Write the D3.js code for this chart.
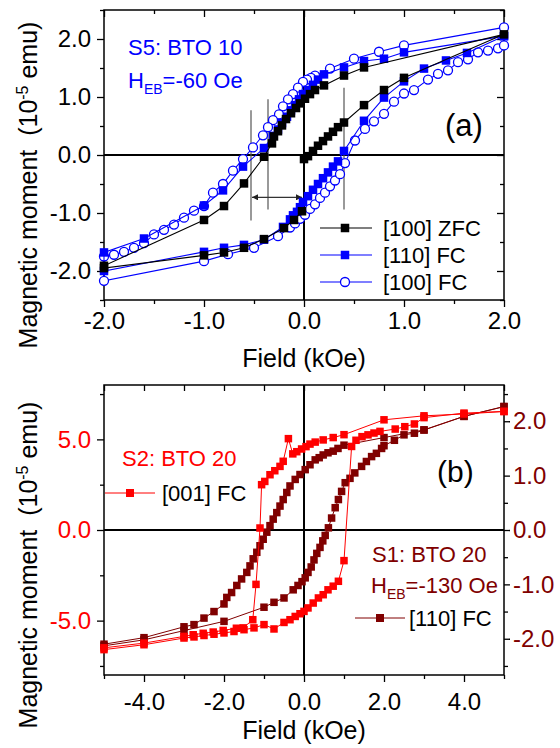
<!DOCTYPE html>
<html><head><meta charset="utf-8">
<script src="https://cdn.jsdelivr.net/npm/d3@7"></script>
<style>
body{margin:0;background:#fff}
svg text{font-family:"Liberation Sans",Arial,Helvetica,sans-serif}
</style>
</head><body>
<svg id="chart" width="560" height="748"></svg>
<script>
// ---------------- DATA: panel (a) S5: BTO 10 ----------------
// [100] ZFC : virgin curve (0 -> +2), descending branch (+2 -> -2), ascending branch (-2 -> 0)
const zfcField  = [0.00,0.04,0.09,0.14,0.19,0.24,0.29,0.34,0.40,0.60,0.80,1.00,2.00,
                   0.60,0.40,0.20,0.11,0.06,0.01,-0.04,-0.08,-0.13,-0.18,-0.22,-0.26,-0.30,-0.32,-0.40,-0.60,-0.80,-1.00,-2.00,
                   -2.00,-1.00,-0.80,-0.60,-0.40,-0.20,-0.10,-0.02];
const zfcMoment = [-0.07,-0.02,0.07,0.16,0.24,0.32,0.40,0.48,0.56,0.86,1.12,1.33,2.08,
                   1.51,1.37,1.20,1.12,1.05,0.97,0.89,0.81,0.72,0.62,0.51,0.41,0.32,0.20,-0.03,-0.49,-0.88,-1.12,-1.91,
                   -1.95,-1.73,-1.68,-1.60,-1.45,-1.26,-1.12,-0.97];
// [110] FC
const fc110Field  = [2.00,1.00,0.80,0.60,0.40,0.20,0.14,0.09,0.04,-0.01,-0.05,-0.09,-0.13,-0.17,-0.22,-0.26,-0.31,-0.40,-0.61,-0.81,-1.00,-1.60,-2.00,
                     -2.00,-1.00,-0.80,-0.60,-0.40,-0.21,-0.14,-0.11,-0.07,-0.04,-0.01,0.04,0.09,0.14,0.19,0.24,0.29,0.34,0.40,0.60,0.80,1.00,1.20,1.42,1.63,2.00];
const fc110Moment = [2.05,1.77,1.66,1.62,1.51,1.39,1.30,1.21,1.12,1.05,0.96,0.86,0.77,0.66,0.55,0.44,0.33,0.12,-0.20,-0.61,-0.87,-1.44,-1.68,
                     -2.00,-1.67,-1.60,-1.55,-1.46,-1.24,-1.11,-1.04,-0.98,-0.90,-0.81,-0.71,-0.60,-0.50,-0.40,-0.30,-0.20,-0.11,0.07,0.59,0.99,1.27,1.49,1.63,1.76,2.05];
// [100] FC
const fc100Field  = [2.00,1.00,0.75,0.50,0.26,0.11,0.07,0.03,-0.01,-0.06,-0.11,-0.16,-0.21,-0.25,-0.31,-0.36,-0.41,-0.51,-0.61,-0.71,-0.81,-0.91,-1.00,-1.10,-1.20,-1.30,-1.40,-1.50,-1.60,-1.70,-1.80,-1.90,-2.00,
                     -2.00,-1.00,-0.76,-0.50,-0.26,-0.14,-0.09,-0.04,0.01,0.06,0.11,0.16,0.21,0.26,0.31,0.36,0.41,0.51,0.61,0.70,0.80,0.90,1.00,1.10,1.24,1.34,1.44,1.54,1.64,1.74,1.84,1.94,2.00];
const fc100Moment = [2.20,1.89,1.78,1.66,1.49,1.37,1.33,1.30,1.26,1.16,1.05,0.96,0.84,0.70,0.60,0.48,0.34,0.13,-0.07,-0.27,-0.50,-0.65,-0.88,-0.96,-1.08,-1.20,-1.29,-1.37,-1.52,-1.60,-1.67,-1.72,-1.75,
                     -2.17,-1.83,-1.71,-1.60,-1.40,-1.25,-1.18,-1.10,-1.03,-0.93,-0.85,-0.74,-0.65,-0.54,-0.44,-0.33,-0.14,0.25,0.45,0.58,0.71,0.92,1.06,1.12,1.30,1.40,1.46,1.60,1.65,1.77,1.80,1.84,1.89];
// coercive-field marker lines in (a): field, bottom moment, top moment
const markerField  = [-0.53,-0.36,0.40];
const markerBottom = [-1.13,-0.94,-0.94];
const markerTop    = [0.77,0.96,1.16];
const arrowField   = [-0.53,0.0];
const arrowMoment  = -0.73;

// ---------------- DATA: panel (b) ----------------
// S2: BTO 20, [001] FC (left axis)
const s2Field  = [5.0,4.0,3.0,2.0,1.0,0.73,0.48,0.28,0.15,0.05,-0.06,-0.18,-0.28,-0.39,-0.52,-0.60,-0.73,-0.85,-0.98,-1.06,-1.10,-1.20,-1.28,-1.52,-1.69,-2.02,-2.27,-2.52,-2.77,-3.00,-4.00,-5.00,
                  -5.0,-4.0,-3.0,-2.75,-2.5,-2.25,-2.0,-1.75,-1.5,-1.25,-1.0,-0.75,-0.5,-0.35,-0.22,-0.1,0.0,0.1,0.23,0.36,0.48,0.6,0.73,0.86,1.0,1.19,1.3,1.45,1.6,1.75,1.9,2.28,2.52,2.76,3.0,4.0,5.0];
const s2Moment = [6.54,6.40,6.30,6.08,5.26,5.10,4.97,4.85,4.74,4.60,4.47,4.32,4.20,5.04,3.79,3.51,3.27,3.05,2.68,2.50,0.11,-3.00,-4.95,-5.40,-5.42,-5.54,-5.63,-5.70,-5.78,-5.87,-6.24,-6.50,
                  -6.60,-6.33,-5.96,-5.90,-5.82,-5.75,-5.68,-5.60,-5.50,-5.40,-5.22,-5.46,-5.10,-4.95,-4.77,-4.62,-4.49,-4.30,-4.03,-3.75,-3.57,-3.30,-3.10,-2.83,-1.69,4.61,4.95,5.15,5.25,5.35,5.44,5.57,5.70,5.85,6.20,6.45,6.54];
// S1: BTO 20, [110] FC (right axis)
const s1Field  = [5.0,4.0,3.0,2.0,1.0,0.85,0.73,0.6,0.48,0.38,0.28,0.15,0.03,-0.1,-0.22,-0.35,-0.43,-0.52,-0.6,-0.68,-0.77,-0.85,-0.93,-1.02,-1.1,-1.18,-1.27,-1.35,-1.43,-1.56,-1.68,-1.81,-1.93,-2.0,-2.25,-2.5,-2.75,-3.0,-4.0,-5.0,
                  -5.0,-4.0,-3.0,-2.0,-1.0,-0.75,-0.5,-0.27,-0.15,-0.05,0.03,0.1,0.18,0.25,0.32,0.4,0.47,0.53,0.61,0.69,0.78,0.86,0.94,1.03,1.15,1.27,1.44,1.56,1.69,1.81,1.94,2.0,2.26,2.5,2.76,3.0,4.0,5.0];
const s1Moment = [2.27,2.09,1.84,1.70,1.56,1.50,1.45,1.42,1.38,1.33,1.29,1.20,1.11,1.02,0.93,0.81,0.69,0.56,0.44,0.32,0.20,0.08,-0.04,-0.17,-0.29,-0.41,-0.53,-0.66,-0.78,-0.90,-1.02,-1.15,-1.24,-1.36,-1.50,-1.62,-1.74,-1.78,-1.98,-2.10,
                  -2.13,-2.02,-1.85,-1.68,-1.42,-1.33,-1.25,-1.10,-1.02,-0.95,-0.88,-0.78,-0.68,-0.55,-0.43,-0.32,-0.20,-0.10,0.04,0.22,0.41,0.56,0.71,0.87,0.95,1.05,1.17,1.26,1.35,1.41,1.50,1.55,1.65,1.75,1.78,1.84,2.09,2.27];

// tick values
const aTicksMajor = [-2,-1,0,1,2];
const aTicksMinor = [-1.5,-0.5,0.5,1.5];
const aYMajor = [-2,-1,0,1,2];
const aYMinor = [-2.5,-1.5,-0.5,0.5,1.5,2.5];
const bTicksMajor = [-4,-2,0,2,4];
const bTicksMinor = [-5,-3,-1,1,3,5];
const bLeftMajor = [-5,0,5];
const bLeftMinor = [-7.5,-2.5,2.5,7.5];
const bRightMajor = [-2,-1,0,1,2];
const bRightMinor = [-2.5,-1.5,-0.5,0.5,1.5,2.5];

// ---------------- DRAWING ----------------
const svg = d3.select("#chart");
const TICKFONT = 24, TITLEFONT = 25, TEXTFONT = 22;
const fmt = d => (Math.abs(d) < 1e-9 ? 0 : d).toFixed(1);
const BLUE = "#0000ff", RED = "#ff0000", DARK = "#800000";

function zip(a, b){ return a.map((v,i)=>[v,b[i]]); }

function axisGroup(axis, transform, color, fontColor){
  const g = svg.append("g").attr("transform", transform).call(axis);
  g.select(".domain").remove();
  g.selectAll("line").attr("stroke", color).attr("stroke-width", 1.3);
  g.selectAll("text").attr("fill", fontColor || "#000").style("font-size", TICKFONT + "px")
    .style("font-family", '"Liberation Sans",Arial,sans-serif');
  return g;
}

// ========== Panel (a) ==========
const ax = d3.scaleLinear().domain([-2, 2]).range([104, 504]);
const ay = d3.scaleLinear().domain([-2.5, 2.5]).range([300, 10]);

axisGroup(d3.axisBottom(ax).tickValues(aTicksMajor).tickSize(7).tickPadding(5).tickFormat(fmt), "translate(0,300)", "#000");
axisGroup(d3.axisBottom(ax).tickValues(aTicksMinor).tickSize(4).tickFormat(""), "translate(0,300)", "#000");
axisGroup(d3.axisTop(ax).tickValues(aTicksMajor).tickSize(-7).tickFormat(""), "translate(0,10)", "#000");
axisGroup(d3.axisTop(ax).tickValues(aTicksMinor).tickSize(-4).tickFormat(""), "translate(0,10)", "#000");
axisGroup(d3.axisLeft(ay).tickValues(aYMajor).tickSize(7).tickPadding(6).tickFormat(fmt), "translate(104,0)", "#000");
axisGroup(d3.axisLeft(ay).tickValues(aYMinor).tickSize(4).tickFormat(""), "translate(104,0)", "#000");
axisGroup(d3.axisRight(ay).tickValues(aYMajor).tickSize(-7).tickFormat(""), "translate(504,0)", "#000");
axisGroup(d3.axisRight(ay).tickValues(aYMinor).tickSize(-4).tickFormat(""), "translate(504,0)", "#000");

svg.append("rect").attr("x", ax(-2)).attr("y", ay(2.5)).attr("width", ax(2)-ax(-2)).attr("height", ay(-2.5)-ay(2.5))
  .attr("fill", "none").attr("stroke", "#000").attr("stroke-width", 1.5);
// zero lines
svg.append("line").attr("x1", ax(-2)).attr("x2", ax(2)).attr("y1", ay(0)).attr("y2", ay(0)).attr("stroke", "#000").attr("stroke-width", 2);
svg.append("line").attr("x1", ax(0)).attr("x2", ax(0)).attr("y1", ay(2.5)).attr("y2", ay(-2.5)).attr("stroke", "#000").attr("stroke-width", 2);

// marker lines and arrow
const gm = svg.append("g");
markerField.forEach((f,i)=>{
  gm.append("line").attr("x1", ax(f)).attr("x2", ax(f)).attr("y1", ay(markerTop[i])).attr("y2", ay(markerBottom[i]))
    .attr("stroke", "#555").attr("stroke-width", 1.2);
});
const defs = svg.append("defs");
defs.append("marker").attr("id","ah").attr("viewBox","0 0 10 10").attr("refX",10).attr("refY",5)
  .attr("markerWidth",9).attr("markerHeight",6).attr("orient","auto-start-reverse").attr("markerUnits","userSpaceOnUse")
  .append("path").attr("d","M0,0 L10,5 L0,10 Z").attr("fill","#222");
gm.append("line").attr("x1", ax(arrowField[0])+1).attr("x2", ax(arrowField[1])-2).attr("y1", ay(arrowMoment)).attr("y2", ay(arrowMoment))
  .attr("stroke", "#333").attr("stroke-width", 1.2).attr("marker-start","url(#ah)").attr("marker-end","url(#ah)");

function drawSeries(xs, ys, data, color, shape, size, lw){
  const g = svg.append("g");
  g.append("path").datum(data).attr("fill","none").attr("stroke", color).attr("stroke-width", lw)
    .attr("d", d3.line().x(d=>xs(d[0])).y(d=>ys(d[1])));
  if (shape === "square") {
    g.selectAll("rect").data(data).join("rect")
      .attr("x", d=>xs(d[0])-size/2).attr("y", d=>ys(d[1])-size/2).attr("width", size).attr("height", size)
      .attr("fill", color);
  } else {
    g.selectAll("circle").data(data).join("circle")
      .attr("cx", d=>xs(d[0])).attr("cy", d=>ys(d[1])).attr("r", size/2)
      .attr("fill", "#fff").attr("stroke", color).attr("stroke-width", 1.3);
  }
}

drawSeries(ax, ay, zip(fc100Field, fc100Moment), BLUE, "circle", 9, 1.1);
drawSeries(ax, ay, zip(fc110Field, fc110Moment), BLUE, "square", 8.5, 1.1);
drawSeries(ax, ay, zip(zfcField, zfcMoment), "#000", "square", 8.5, 1.1);

// legend (a)
const legA = [
  {label:"[100] ZFC", color:"#000", shape:"square", y:228},
  {label:"[110] FC", color:BLUE, shape:"square", y:255},
  {label:"[100] FC", color:BLUE, shape:"circle", y:282}
];
legA.forEach(d=>{
  svg.append("line").attr("x1",320).attr("x2",372).attr("y1",d.y).attr("y2",d.y).attr("stroke",d.color).attr("stroke-width",1.1);
  if (d.shape==="square") svg.append("rect").attr("x",345-4.25).attr("y",d.y-4.25).attr("width",8.5).attr("height",8.5).attr("fill",d.color);
  else svg.append("circle").attr("cx",345).attr("cy",d.y).attr("r",4.5).attr("fill","#fff").attr("stroke",d.color).attr("stroke-width",1.3);
  svg.append("text").attr("x",383).attr("y",d.y+8).style("font-size",TEXTFONT+"px").attr("fill","#000").text(d.label);
});

// annotations (a)
svg.append("text").attr("x",128).attr("y",55).style("font-size",TEXTFONT+"px").attr("fill",BLUE).text("S5: BTO 10");
const heb = svg.append("text").attr("x",128).attr("y",88).style("font-size",TEXTFONT+"px").attr("fill",BLUE);
heb.append("tspan").text("H");
heb.append("tspan").attr("dy",6).style("font-size","14px").text("EB");
heb.append("tspan").attr("dy",-6).text("=-60 Oe");
svg.append("text").attr("x",445).attr("y",136).style("font-size","31px").attr("fill","#000").text("(a)");

// axis titles (a)
svg.append("text").attr("x",304).attr("y",367).attr("text-anchor","middle").style("font-size",TITLEFONT+"px").text("Field (kOe)");
function yTitle(x, y){
  const t = svg.append("text").attr("transform",`translate(${x},${y}) rotate(-90)`).attr("text-anchor","middle").style("font-size",TITLEFONT+"px");
  t.append("tspan").text("Magnetic moment\u00a0\u00a0(10");
  t.append("tspan").attr("dy",-9).style("font-size","16px").text("-5");
  t.append("tspan").attr("dy",9).text(" emu)");
}
yTitle(37, 185);

// ========== Panel (b) ==========
const bx = d3.scaleLinear().domain([-5, 5]).range([104, 504]);
const byL = d3.scaleLinear().domain([-8, 8]).range([675, 385]);
const byR = d3.scaleLinear().domain([-8/3, 8/3]).range([675, 385]);

axisGroup(d3.axisBottom(bx).tickValues(bTicksMajor).tickSize(7).tickPadding(11).tickFormat(fmt), "translate(0,675)", "#000");
axisGroup(d3.axisBottom(bx).tickValues(bTicksMinor).tickSize(4).tickFormat(""), "translate(0,675)", "#000");
axisGroup(d3.axisTop(bx).tickValues(bTicksMajor.concat(bTicksMinor)).tickSize(-6).tickFormat(""), "translate(0,385)", "#000");
axisGroup(d3.axisLeft(byL).tickValues(bLeftMajor).tickSize(7).tickPadding(6).tickFormat(fmt), "translate(104,0)", "#000", RED);
axisGroup(d3.axisLeft(byL).tickValues(bLeftMinor).tickSize(4).tickFormat(""), "translate(104,0)", "#000");
axisGroup(d3.axisRight(byR).tickValues(bRightMajor).tickSize(6).tickPadding(3).tickFormat(fmt), "translate(504,0)", "#000", DARK);
axisGroup(d3.axisRight(byR).tickValues(bRightMinor).tickSize(4).tickFormat(""), "translate(504,0)", "#000");

svg.append("rect").attr("x", bx(-5)).attr("y", 385).attr("width", bx(5)-bx(-5)).attr("height", 290)
  .attr("fill", "none").attr("stroke", "#000").attr("stroke-width", 1.5);
svg.append("line").attr("x1", bx(-5)).attr("x2", bx(5)).attr("y1", byL(0)).attr("y2", byL(0)).attr("stroke", "#000").attr("stroke-width", 2);
svg.append("line").attr("x1", bx(0)).attr("x2", bx(0)).attr("y1", 385).attr("y2", 675).attr("stroke", "#000").attr("stroke-width", 2);

drawSeries(bx, byR, zip(s1Field, s1Moment), DARK, "square", 7.5, 1);
drawSeries(bx, byL, zip(s2Field, s2Moment), RED, "square", 7.5, 1);

// annotations (b)
svg.append("text").attr("x",122).attr("y",466).style("font-size",TEXTFONT+"px").attr("fill",RED).text("S2: BTO 20");
svg.append("line").attr("x1",105).attr("x2",155).attr("y1",493).attr("y2",493).attr("stroke",RED).attr("stroke-width",1);
svg.append("rect").attr("x",130-4).attr("y",493-4).attr("width",8).attr("height",8).attr("fill",RED);
svg.append("text").attr("x",162).attr("y",501).style("font-size",TEXTFONT+"px").attr("fill","#000").text("[001] FC");

svg.append("text").attr("x",437).attr("y",482).style("font-size","30px").attr("fill","#000").text("(b)");
svg.append("text").attr("x",372).attr("y",562).style("font-size",TEXTFONT+"px").attr("fill",DARK).text("S1: BTO 20");
const heb2 = svg.append("text").attr("x",371).attr("y",593).style("font-size",TEXTFONT+"px").attr("fill",DARK);
heb2.append("tspan").text("H");
heb2.append("tspan").attr("dy",6).style("font-size","14px").text("EB");
heb2.append("tspan").attr("dy",-6).text("=-130 Oe");
svg.append("line").attr("x1",355).attr("x2",405).attr("y1",618).attr("y2",618).attr("stroke",DARK).attr("stroke-width",1);
svg.append("rect").attr("x",380-4).attr("y",618-4).attr("width",8).attr("height",8).attr("fill",DARK);
svg.append("text").attr("x",409).attr("y",626).style("font-size",TEXTFONT+"px").attr("fill","#000").text("[110] FC");

svg.append("text").attr("x",304).attr("y",739).attr("text-anchor","middle").style("font-size",TITLEFONT+"px").text("Field (kOe)");
yTitle(37, 565);
</script>
</body></html>
